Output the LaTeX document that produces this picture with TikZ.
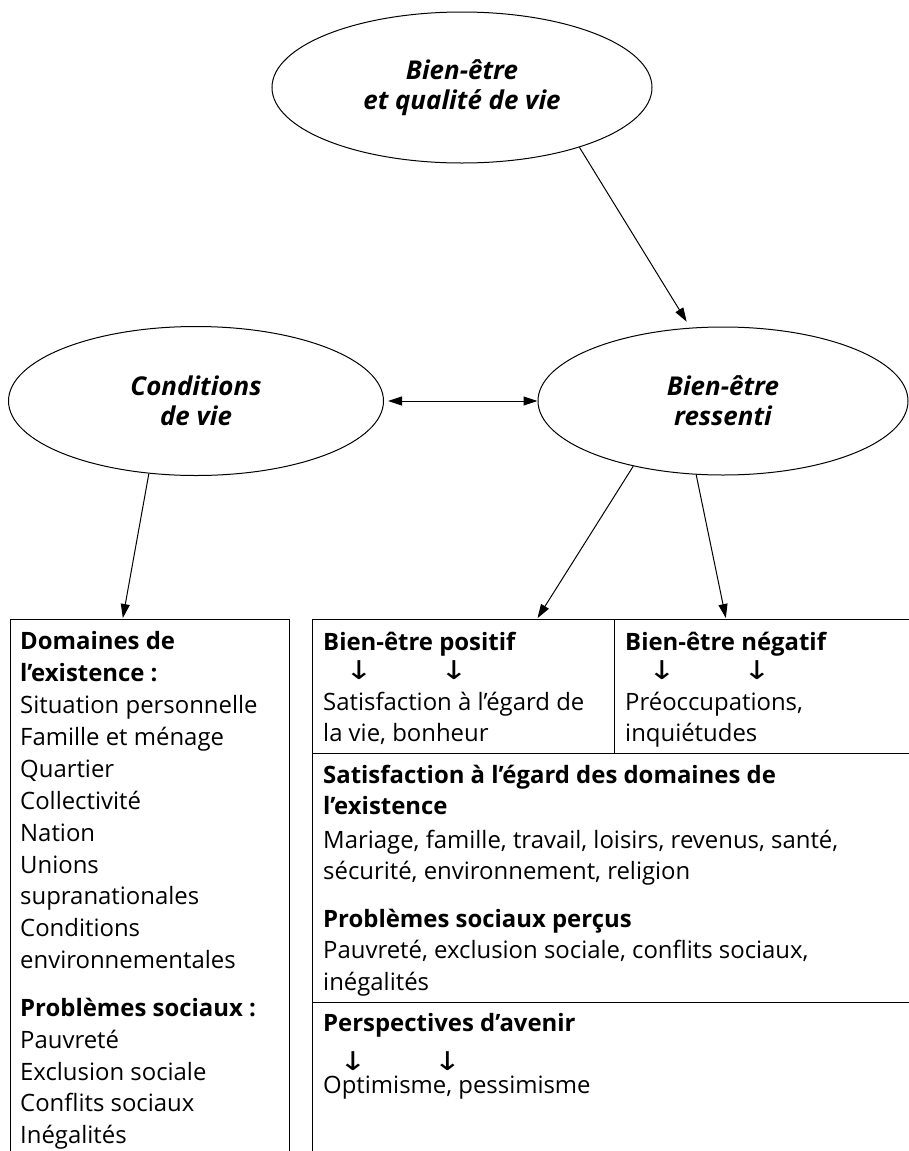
\documentclass[tikz,border=0pt]{standalone}
\usepackage{graphicx}
\usepackage{fontspec}
\setmainfont{Open Sans}
\newfontfamily\arrowfont{DejaVu Sans}
\usetikzlibrary{shapes.geometric,arrows.meta,calc}
\newcommand{\dnarrow}{\scalebox{1.3}[1]{\arrowfont\fontsize{26}{26}\selectfont ↓}}
\begin{document}
\begin{tikzpicture}[x=1bp,y=-1bp,
  ell/.style={draw, ellipse, line width=1bp, inner sep=0pt, align=center,
    font=\fontsize{26}{30.5}\selectfont\bfseries\itshape},
  cell/.style={draw, rectangle, line width=1.2bp, inner sep=0pt, anchor=north west},
  txt/.style={anchor=base west, inner sep=0pt, font=\fontsize{24}{28}\selectfont},
  btxt/.style={txt, font=\fontsize{24}{28}\selectfont\bfseries},
  darr/.style={anchor=center, inner sep=0pt},
  arr/.style={line width=1bp, -{Triangle[length=14bp,width=9bp]}},
  arrtwo/.style={line width=1bp, {Triangle[length=14bp,width=9bp]}-{Triangle[length=14bp,width=9bp]}}
]
\path[use as bounding box] (0,0) rectangle (909,1151);
\clip (0,0) rectangle (909,1151);

% ellipses
\node[ell, minimum width=380bp, minimum height=151bp] (top) at (462,87.5) {Bien-être\\et qualité de vie};
\node[ell, minimum width=375bp, minimum height=149bp] (cond) at (196,401) {Conditions\\de vie};
\node[ell, minimum width=370bp, minimum height=148bp] (ress) at (723,401) {Bien-être\\ressenti};

% boxes
\node[cell, minimum width=279bp, minimum height=545bp] (lbox) at (10,619) {};
\node[cell, minimum width=302bp, minimum height=134bp] (pos) at (312,619) {};
\node[cell, minimum width=310bp, minimum height=134bp] (neg) at (614,619) {};
\node[cell, minimum width=612bp, minimum height=249bp] (sat) at (312,753) {};
\node[cell, minimum width=612bp, minimum height=160bp] (persp) at (312,1002) {};

% connectors
\draw[arr, shorten >=7bp] (top.-27) -- (ress.114);
\draw[arrtwo, shorten <=4bp] (cond.east) -- (ress.west);
\draw[arr, shorten >=1bp] (cond.237) -- ($(lbox.north west)!0.402!(lbox.north east)$);
\draw[arr, shorten >=1bp] (ress.216) -- ($(pos.north west)!0.742!(pos.north east)$);
\draw[arr, shorten >=1bp] (ress.250) -- ($(neg.north west)!0.36!(neg.north east)$);

% left box text
\node[btxt] (l1) at (20,649) {Domaines de};
\node[btxt] (l2) at (20,681) {l’existence :};
\node[txt] (l3) at (20,713) {Situation personnelle};
\node[txt] (l4) at (20,745) {Famille et ménage};
\node[txt] (l5) at (20,777) {Quartier};
\node[txt] (l6) at (20,809) {Collectivité};
\node[txt] (l7) at (20,841) {Nation};
\node[txt] (l8) at (20,873) {Unions};
\node[txt] (l9) at (20,904.5) {supranationales};
\node[txt] (l10) at (20,936.5) {Conditions};
\node[txt] (l11) at (20,968.5) {environnementales};
\node[btxt] (l12) at (20,1016.5) {Problèmes sociaux :};
\node[txt] (l13) at (20,1048) {Pauvreté};
\node[txt] (l14) at (20,1080) {Exclusion sociale};
\node[txt] (l15) at (20,1111.5) {Conflits sociaux};
\node[txt] (l16) at (20,1143) {Inégalités};

% positive
\node[btxt] (p1) at (323,650) {Bien-être positif};
\node[darr] (pa1) at (359,670) {\dnarrow};
\node[darr] (pa2) at (454,670) {\dnarrow};
\node[txt] (p2) at (323,710) {Satisfaction à l’égard de};
\node[txt] (p3) at (323,741.5) {la vie, bonheur};

% negative
\node[btxt] (n1) at (625,650) {Bien-être négatif};
\node[darr] (na1) at (662,670) {\dnarrow};
\node[darr] (na2) at (757,670) {\dnarrow};
\node[txt] (n2) at (625,710) {Préoccupations,};
\node[txt] (n3) at (625,741.5) {inquiétudes};

% satisfaction
\node[btxt] (s1) at (323,783) {Satisfaction à l’égard des domaines de};
\node[btxt] (s2) at (323,814.5) {l’existence};
\node[txt] (s3) at (323,848) {Mariage, famille, travail, loisirs, revenus, santé,};
\node[txt] (s4) at (323,879.5) {sécurité, environnement, religion};
\node[btxt] (s5) at (323,927) {Problèmes sociaux perçus};
\node[txt] (s6) at (323,958.5) {Pauvreté, exclusion sociale, conflits sociaux,};
\node[txt] (s7) at (323,990) {inégalités};

% perspectives
\node[btxt] (q1) at (323,1031) {Perspectives d’avenir};
\node[darr] (qa1) at (353,1061) {\dnarrow};
\node[darr] (qa2) at (447.5,1061) {\dnarrow};
\node[txt] (q2) at (323,1093) {Optimisme, pessimisme};
\end{tikzpicture}
\end{document}
